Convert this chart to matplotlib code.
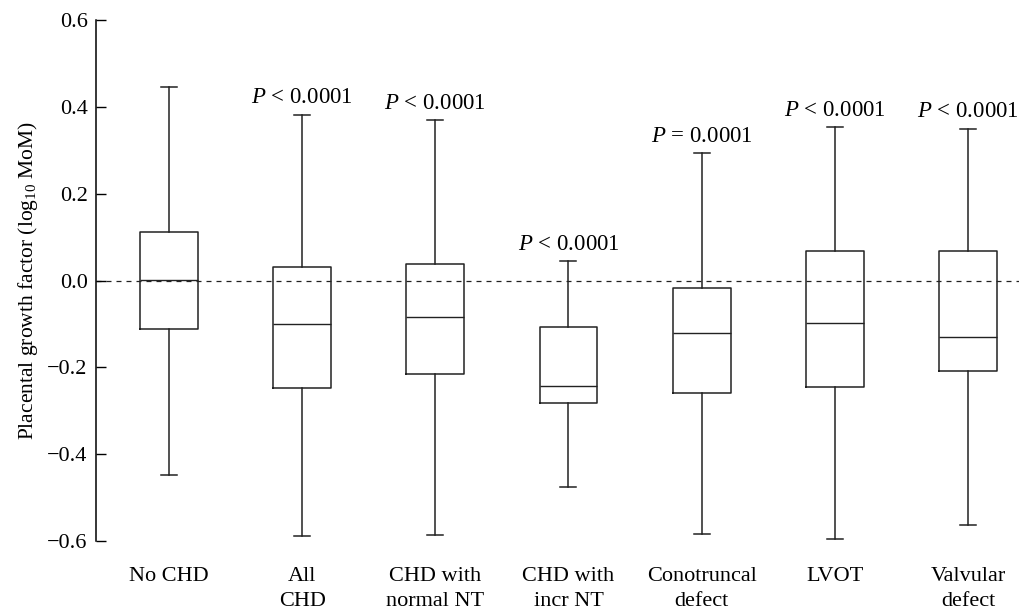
import matplotlib
matplotlib.use("Agg")
import matplotlib.pyplot as plt

plt.rcParams['font.family'] = ['Liberation Serif', 'DejaVu Serif']
plt.rcParams['mathtext.fontset'] = 'custom'
plt.rcParams['mathtext.rm'] = 'Liberation Serif'
plt.rcParams['mathtext.it'] = 'Liberation Serif:italic'

# group labels and box statistics (log10 MoM)
groups = ["No CHD", "All\nCHD", "CHD with\nnormal NT", "CHD with\nincr NT",
          "Conotruncal\ndefect", "LVOT", "Valvular\ndefect"]
whis_hi = [0.445, 0.382, 0.370, 0.044, 0.294, 0.353, 0.350]
q3 = [0.112, 0.030, 0.038, -0.106, -0.018, 0.069, 0.067]
medians = [0.002, -0.100, -0.083, -0.244, -0.121, -0.097, -0.131]
q1 = [-0.112, -0.248, -0.215, -0.282, -0.260, -0.246, -0.209]
whis_lo = [-0.447, -0.589, -0.586, -0.476, -0.585, -0.595, -0.564]
p_labels = [None, "$P$ < 0.0001", "$P$ < 0.0001", "$P$ < 0.0001",
            "$P$ = 0.0001", "$P$ < 0.0001", "$P$ < 0.0001"]

stats = []
for i in range(len(groups)):
    stats.append(dict(med=medians[i], q1=q1[i], q3=q3[i],
                      whislo=whis_lo[i], whishi=whis_hi[i], fliers=[]))

fig = plt.figure(figsize=(10.19, 6.14), dpi=100)
ax = fig.add_axes([96/1019, (614-541)/614, (1019-96)/1019, (541-20)/614])

pos = list(range(1, len(groups) + 1))
line = dict(color="#222222", linewidth=1.1)
ax.bxp(stats, positions=pos, widths=0.435, capwidths=0.12, showfliers=False,
       boxprops=line, whiskerprops=line, capprops=line,
       medianprops=dict(color="#222222", linewidth=1.0))

ax.axhline(0, color="#222222", linewidth=0.9, linestyle=(0, (4, 4)), zorder=0)

for p, hi, lab in zip(pos, whis_hi, p_labels):
    if lab:
        ax.text(p, hi + 0.026, lab, ha="center", va="baseline", fontsize=16.5)

ax.set_xlim(0.452, 7.383)
ax.set_ylim(-0.6, 0.6)
ax.set_yticks([-0.6, -0.4, -0.2, 0.0, 0.2, 0.4, 0.6])
ax.set_yticklabels(["\u22120.6", "\u22120.4", "\u22120.2", "0.0", "0.2", "0.4", "0.6"])
ax.set_xticks(pos)
ax.set_xticklabels(groups, fontsize=16, linespacing=1.4)
ax.tick_params(axis="x", length=0, pad=19)
ax.tick_params(axis="y", direction="in", length=7, width=1, labelsize=16, pad=6)

for s in ["top", "right", "bottom"]:
    ax.spines[s].set_visible(False)
ax.spines["left"].set_linewidth(1.1)

ax.set_ylabel("Placental growth factor (log$_{10}$ MoM)", fontsize=15.5, labelpad=5)

fig.savefig("out.png", dpi=100)
